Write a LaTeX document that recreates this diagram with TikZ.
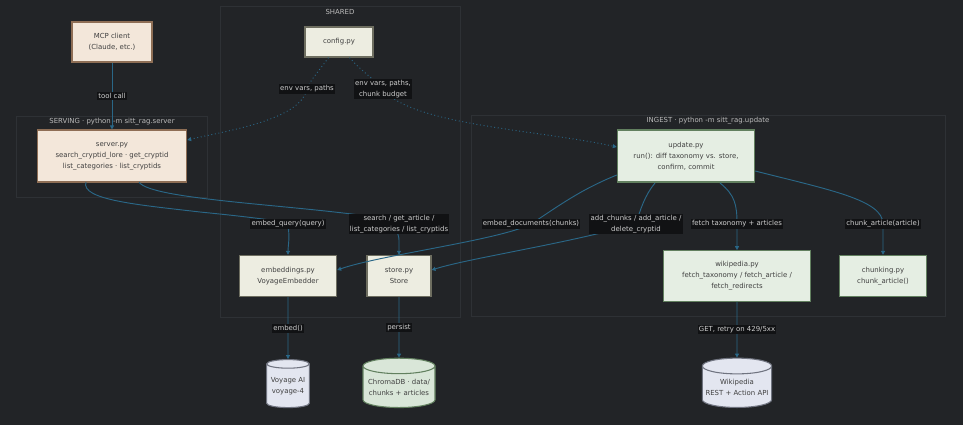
\documentclass[tikz,border=0pt]{standalone}
\usepackage{fontspec}
\setmainfont{DejaVu Sans}
\usetikzlibrary{positioning, shapes.geometric, arrows.meta}
\definecolor{bg}{HTML}{222427}
\definecolor{edgec}{HTML}{2A6787}
\definecolor{clus}{HTML}{2E3135}
\definecolor{servefill}{HTML}{F3E7DA}
\definecolor{servedraw}{HTML}{8E6E55}
\definecolor{sharedfill}{HTML}{EDEDE1}
\definecolor{shareddraw}{HTML}{6E6E60}
\definecolor{ingestfill}{HTML}{E5EEE3}
\definecolor{ingestdraw}{HTML}{62805F}
\definecolor{extfill}{HTML}{E3E6F0}
\definecolor{extdraw}{HTML}{707480}
\definecolor{chromafill}{HTML}{D9E6D8}
\definecolor{lblfill}{HTML}{111214}
\definecolor{lbltext}{HTML}{CFCFCF}
\definecolor{titletext}{HTML}{BBBBBB}
\begin{document}
\begin{tikzpicture}[x=0.75pt, y=-0.75pt, font=\fontsize{5.2}{8.3}\selectfont,
    box/.style = {draw, line width=0.8pt, align=center, inner sep=0pt, text=black!75},
    serve/.style = {box, fill=servefill, draw=servedraw},
    shared/.style = {box, fill=sharedfill, draw=shareddraw},
    ingest/.style = {box, fill=ingestfill, draw=ingestdraw},
    db/.style = {cylinder, shape border rotate=90, aspect=0.25, draw, line width=0.8pt, align=center, inner sep=0pt, text=black!75},
    link/.style = {draw=edgec, line width=0.7pt, -{Triangle[length=3pt, width=3pt]}},
    cfg/.style = {link, dotted},
    lbl/.style = {fill=lblfill, text=lbltext, inner sep=1pt, align=center},
    title/.style = {text=titletext},
    cluster/.style = {draw=clus, line width=0.5pt}]
		\fill[bg] (0,0) rectangle (963,425);
		% groups
		\draw[cluster] (220,6) rectangle (460,317);
		\draw[cluster] (16,116) rectangle (207,197);
		\draw[cluster] (471,115) rectangle (945,316);
		\node[title] (tshared) at (340,12) {SHARED};
		\node[title] (tserve) at (112,122) {SERVING · python -m sitt\_rag.server};
		\node[title] (tingest) at (708,121) {INGEST · python -m sitt\_rag.update};
		% nodes
		\node[serve, minimum width=60pt, minimum height=30pt] (client) at (112,42) {MCP client\\(Claude, etc.)};
		\node[shared, minimum width=51pt, minimum height=22.5pt] (config) at (339,42) {config.py};
		\node[serve, minimum width=112pt, minimum height=39pt] (server) at (112,156) {server.py\\search\_cryptid\_lore · get\_cryptid\\list\_categories · list\_cryptids};
		\node[ingest, minimum width=103pt, minimum height=39pt] (update) at (686,156) {update.py\\run(): diff taxonomy vs. store,\\confirm, commit};
		\node[shared, minimum width=73pt, minimum height=31pt] (embed) at (288,276) {embeddings.py\\VoyageEmbedder};
		\node[shared, minimum width=48pt, minimum height=31pt] (store) at (399,276) {store.py\\Store};
		\node[ingest, minimum width=110pt, minimum height=38pt] (wiki) at (737,276) {wikipedia.py\\fetch\_taxonomy / fetch\_article /\\fetch\_redirects};
		\node[ingest, minimum width=65pt, minimum height=31pt] (chunk) at (883,276) {chunking.py\\chunk\_article()};
		\node[db, fill=extfill, draw=extdraw, minimum width=32pt, minimum height=36pt] (voyage) at (288,386) {Voyage AI\\voyage-4};
		\node[db, fill=chromafill, draw=ingestdraw, minimum width=54pt, minimum height=37pt] (chroma) at (399,387) {ChromaDB · data/\\chunks + articles};
		\node[db, fill=extfill, draw=extdraw, minimum width=52pt, minimum height=37pt] (wpapi) at (737,387) {Wikipedia\\REST + Action API};
		% connectors
		\draw[link] (client) -- node[lbl] {tool call} (server);
		\draw[cfg] (config.south west) ++(24,0) .. controls (320,70) and (310,80) .. (307,89) node[lbl] {env vars, paths} .. controls (300,120) and (230,130) .. (server.east |- 0,140);
		\draw[cfg] (config.south east) ++(-24,0) .. controls (360,70) and (375,80) .. (383,89) node[lbl] {env vars, paths,\\chunk budget} .. controls (410,125) and (540,130) .. (update.west |- 0,147);
		\draw[link] (86,182) .. controls (80,200) and (140,205) .. (200,212) .. controls (260,218) and (288,222) .. (288,224) node[lbl] {embed\_query(query)} .. controls (290,240) and (288,245) .. (embed.north);
		\draw[link] (139,182) .. controls (150,200) and (300,205) .. (380,218) .. controls (395,222) and (399,235) .. (399,240) .. controls (399,245) and (399,250) .. (store.north);
		\node[lbl] (lsearch) at (399,224) {search / get\_article /\\list\_categories / list\_cryptids};
		\draw[link] (update.west |- 0,175) .. controls (580,190) and (560,205) .. (531,224) node[lbl] {embed\_documents(chunks)} .. controls (500,240) and (380,255) .. (embed.east |- 0,270);
		\draw[link] (655,183) .. controls (645,195) and (640,210) .. (636,224) node[lbl] {add\_chunks / add\_article /\\delete\_cryptid} .. controls (560,245) and (470,258) .. (store.east |- 0,270);
		\draw[link] (720,183) .. controls (735,195) and (737,205) .. (737,224) node[lbl] {fetch taxonomy + articles} -- (wiki.north);
		\draw[link] (update.east |- 0,171) .. controls (830,190) and (883,200) .. (883,224) node[lbl] {chunk\_article(article)} -- (chunk.north);
		\draw[link] (embed) -- node[lbl] {embed()} (voyage);
		\draw[link] (store) -- node[lbl] {persist} (chroma);
		\draw[link] (wiki) -- node[lbl] {GET, retry on 429/5xx} (wpapi);
\end{tikzpicture}
\end{document}
